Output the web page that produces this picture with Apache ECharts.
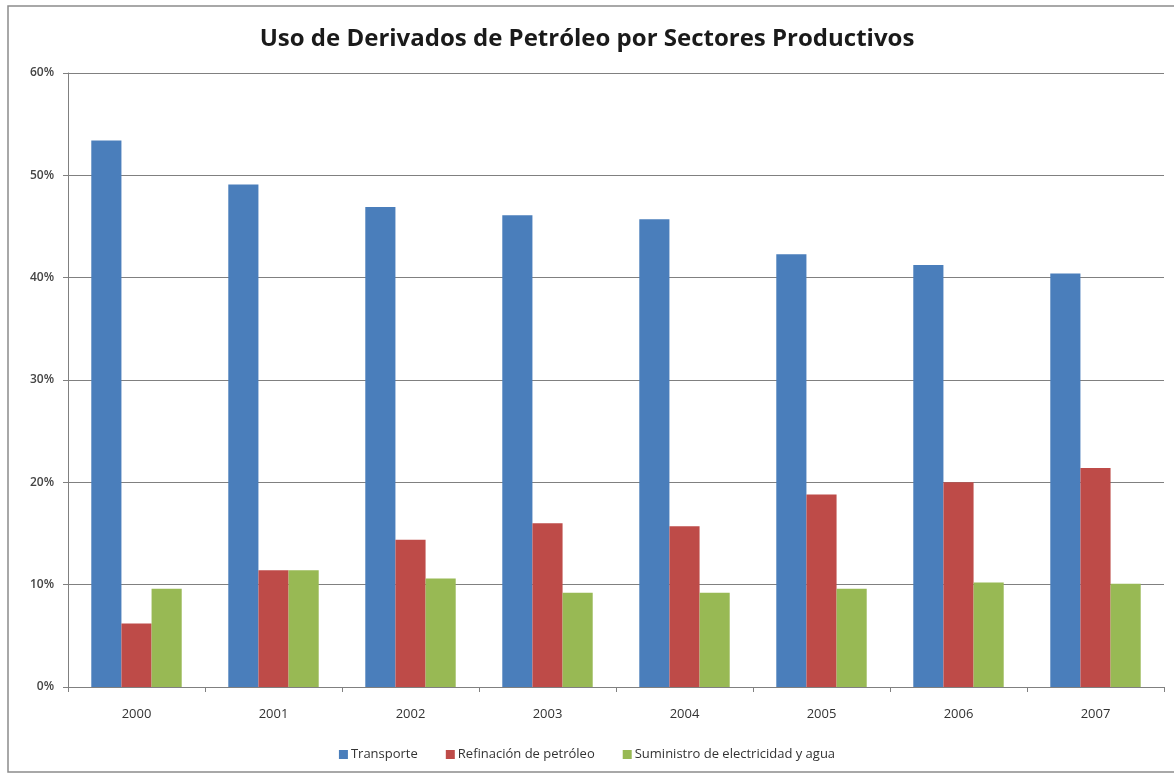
<!DOCTYPE html>
<html><head><meta charset="utf-8">
<script src="https://cdn.jsdelivr.net/npm/echarts@6/dist/echarts.min.js"></script>
<style>html,body{margin:0;padding:0;background:#fff}#c{width:1174px;height:776px}</style>
</head><body><div id="c"></div>
<script>
const title = 'Uso de Derivados de Petróleo por Sectores Productivos';
const years = ['2000','2001','2002','2003','2004','2005','2006','2007'];
const seriesNames = ['Transporte','Refinación de petróleo','Suministro de electricidad y agua'];
const transporte = [53.4, 49.1, 46.9, 46.1, 45.7, 42.3, 41.25, 40.4];
const refinacion = [6.2, 11.4, 14.4, 16.0, 15.7, 18.8, 20.0, 21.4];
const suministro = [9.6, 11.4, 10.6, 9.2, 9.2, 9.6, 10.2, 10.1];
const yTicks = [0, 10, 20, 30, 40, 50, 60];
const colors = ['#4a7ebb', '#be4b48', '#98b954'];

const chart = echarts.init(document.getElementById('c'), null, {renderer: 'canvas'});
const font = "'Open Sans', 'Noto Sans', sans-serif";
const mk = (name, data, i) => ({
  name, type: 'bar', data, barGap: '0%', barCategoryGap: '34%',
  itemStyle: {color: colors[i]}, animation: false
});
chart.setOption({
  animation: false,
  graphic: [{type: 'rect', shape: {x: 8, y: 6, width: 1180, height: 766},
    style: {fill: 'none', stroke: '#8c8c8c', lineWidth: 1.5}, silent: true}],
  title: {text: title, left: 'center', top: 22,
    textStyle: {fontFamily: font, fontSize: 24, fontWeight: 'bold', color: '#1a1a1a'}},
  legend: {bottom: 10, left: 'center', itemWidth: 9, itemHeight: 9, itemGap: 28, icon: 'rect',
    textStyle: {fontFamily: font, fontSize: 13, color: '#333', padding: [0, 0, 0, -2]}, data: seriesNames},
  grid: {left: 68, right: 10, top: 73, bottom: 89, containLabel: false},
  xAxis: {type: 'category', data: years,
    axisLine: {lineStyle: {color: '#808080', width: 1}},
    axisTick: {show: true, length: 5, lineStyle: {color: '#808080'}},
    axisLabel: {fontFamily: font, fontSize: 13, color: '#333', margin: 21}},
  yAxis: {type: 'value', min: yTicks[0], max: yTicks[yTicks.length - 1], interval: 10,
    axisLine: {show: true, lineStyle: {color: '#808080'}},
    axisTick: {show: true, length: 5, lineStyle: {color: '#808080'}},
    splitLine: {lineStyle: {color: '#808080', width: 1}},
    axisLabel: {fontFamily: font, fontSize: 12, fontWeight: 600, color: '#444', margin: 14, formatter: v => v + '%'}},
  series: [mk(seriesNames[0], transporte, 0), mk(seriesNames[1], refinacion, 1), mk(seriesNames[2], suministro, 2)]
});
</script></body></html>
